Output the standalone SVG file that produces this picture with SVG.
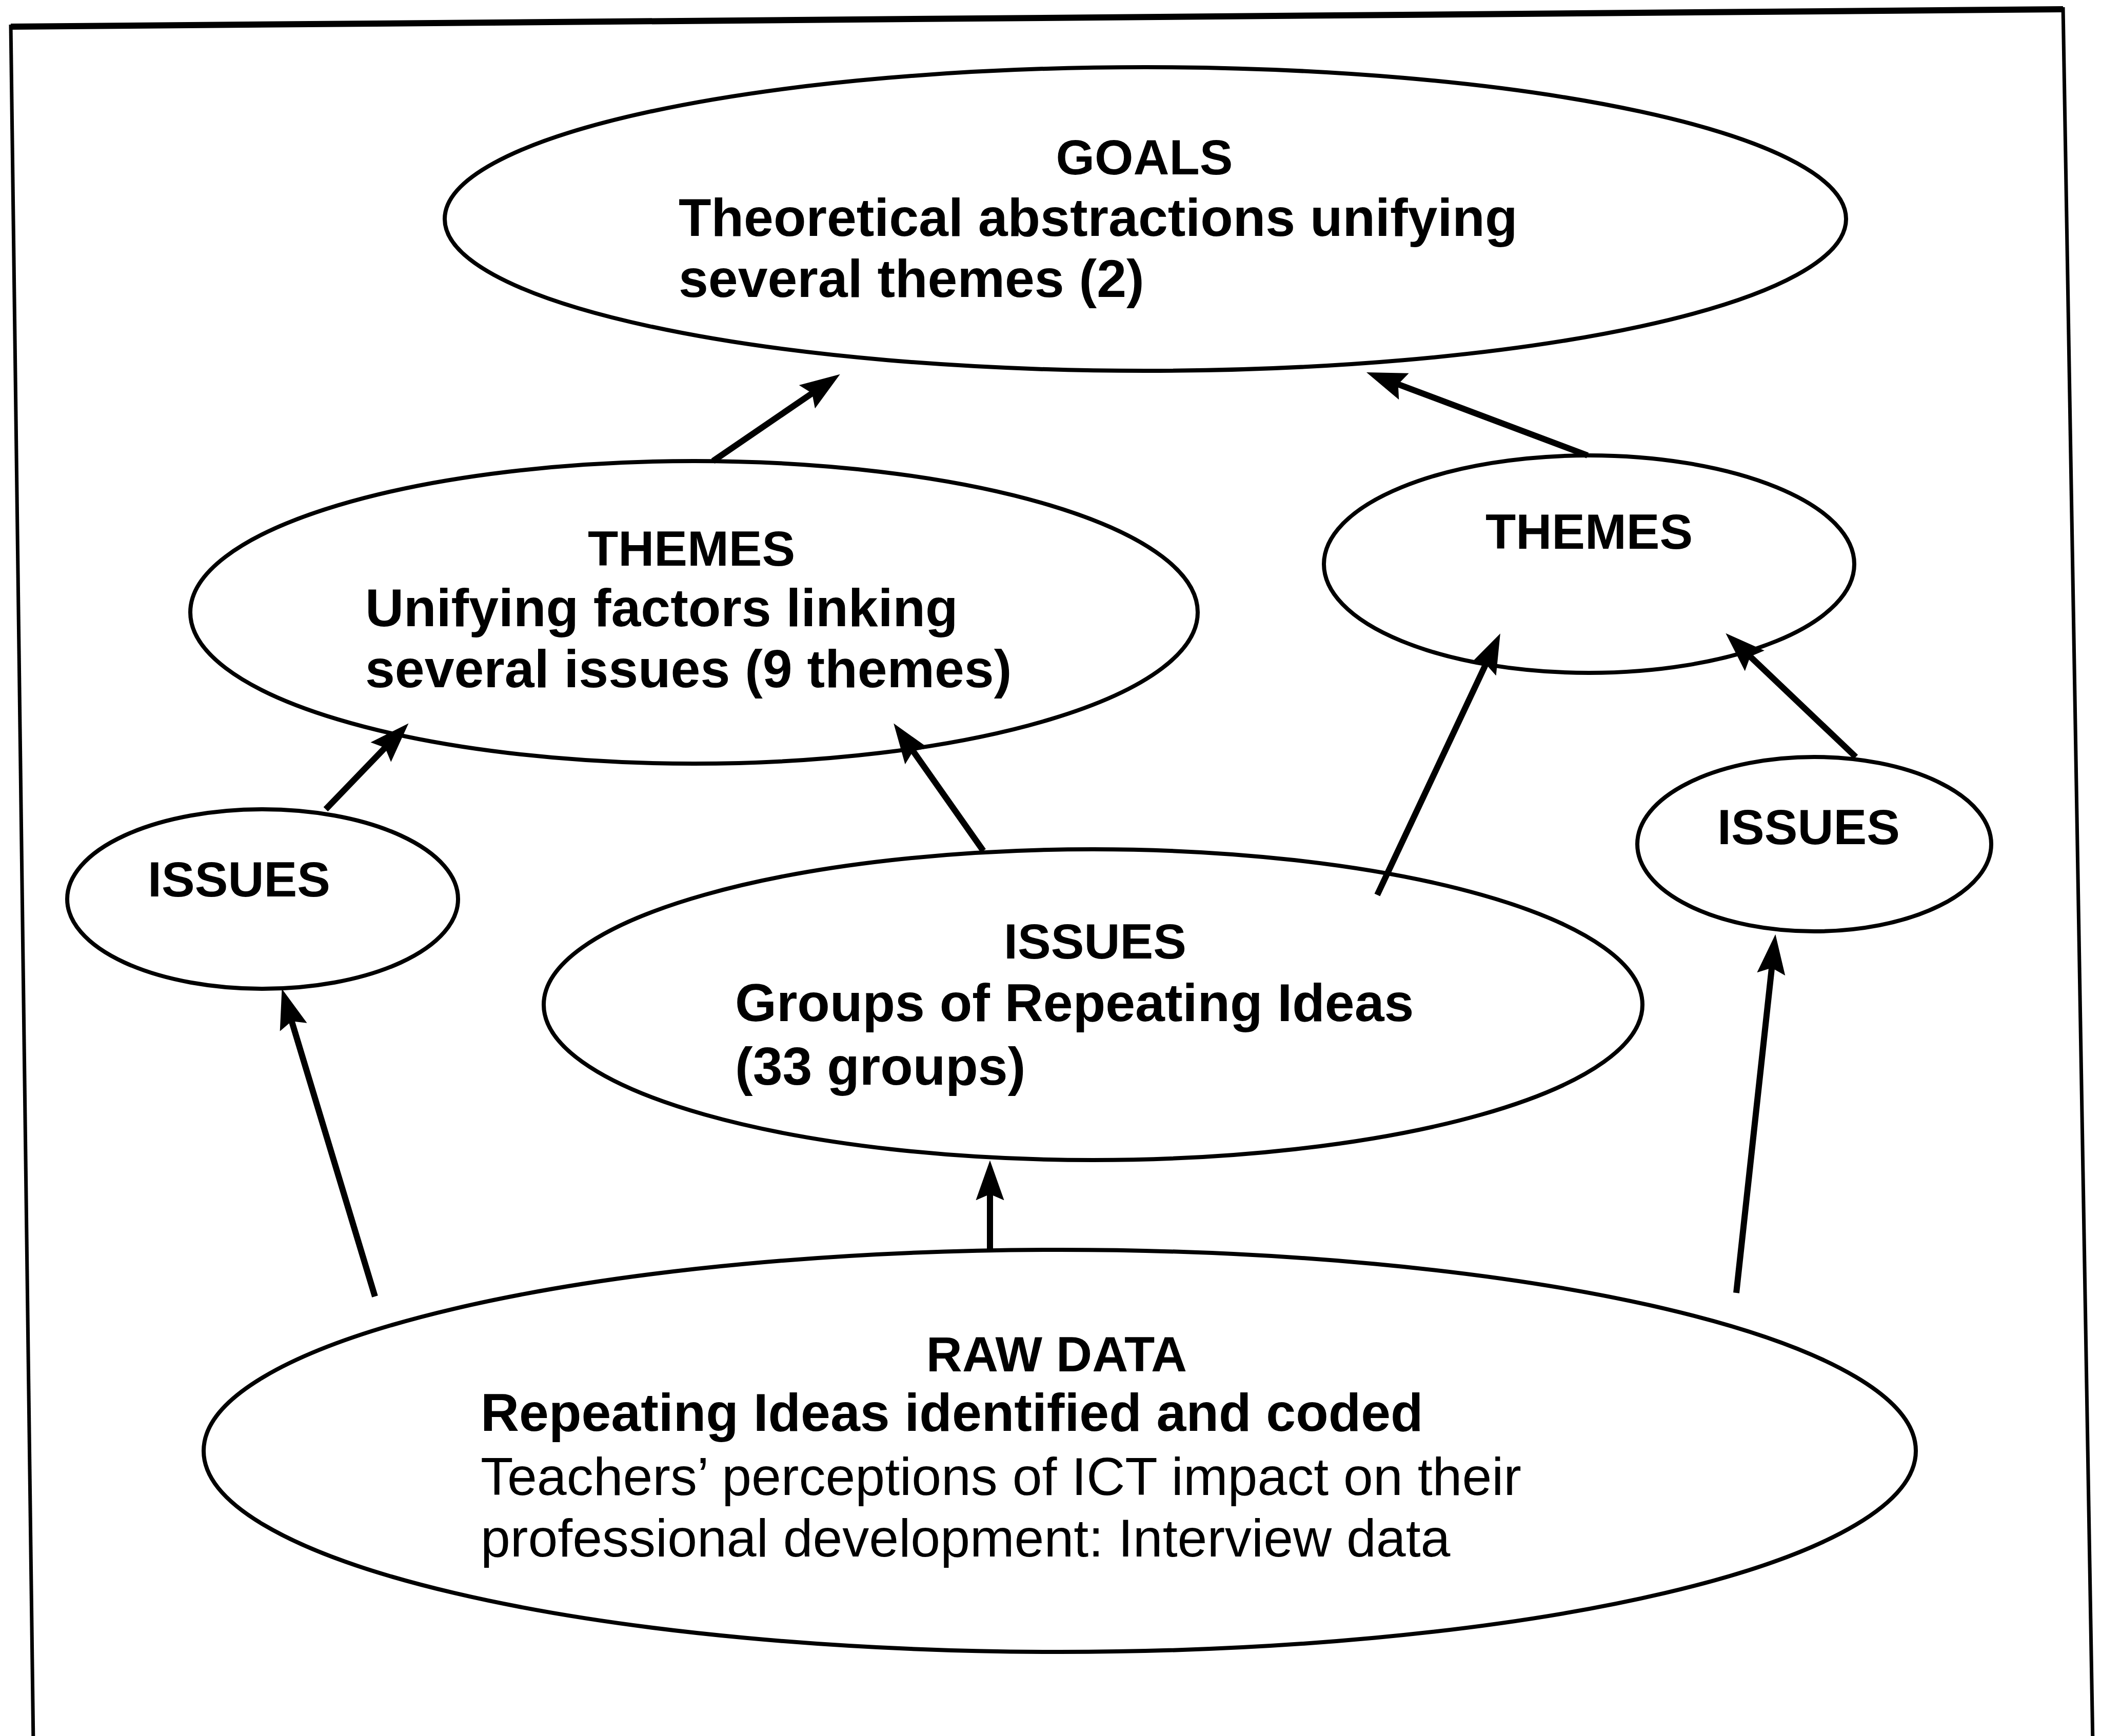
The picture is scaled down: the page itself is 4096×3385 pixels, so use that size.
<svg xmlns="http://www.w3.org/2000/svg" width="4096" height="3385" viewBox="0 0 4096 3385">
  <style>
    .node { fill: #ffffff; stroke: #000000; stroke-width: 8; }
    .head { font-family: "Liberation Sans", Arial, sans-serif; font-weight: bold; font-size: 97px; fill: #000000; text-anchor: middle; }
    .body { font-family: "Liberation Sans", Arial, sans-serif; font-weight: bold; font-size: 104px; fill: #000000; }
    .plain { font-family: "Liberation Sans", Arial, sans-serif; font-weight: normal; font-size: 104px; fill: #000000; }
    .link { stroke: #000000; stroke-width: 12; fill: none; marker-end: url(#arrow); }
  </style>
  <defs>
    <marker id="arrow" viewBox="0 0 6.5 5" refX="3.2" refY="2.5" markerWidth="6.5" markerHeight="5" markerUnits="strokeWidth" orient="auto">
      <path d="M0,0.2 L6.5,2.5 L0,4.8 L1,2.5 z" fill="#000000"/>
    </marker>
  </defs>

  <rect width="4096" height="3385" fill="#ffffff"/>

  <!-- outer frame, slightly skewed -->
  <g id="frame" fill="none" stroke="#000000">
    <line x1="21" y1="52" x2="4022" y2="18" stroke-width="12"/>
    <line x1="21" y1="48" x2="65" y2="3400" stroke-width="7"/>
    <line x1="4022" y1="14" x2="4080" y2="3400" stroke-width="7"/>
  </g>

  <g id="goals">
    <ellipse class="node" cx="2233" cy="427" rx="1366" ry="296"/>
    <text class="head" x="2231" y="340">GOALS</text>
    <text class="body" x="1323" y="460">Theoretical abstractions unifying</text>
    <text class="body" x="1323" y="579">several themes (2)</text>
  </g>

  <g id="themes-left">
    <ellipse class="node" cx="1353" cy="1194" rx="982" ry="295"/>
    <text class="head" x="1348" y="1103">THEMES</text>
    <text class="body" x="712" y="1221">Unifying factors linking</text>
    <text class="body" x="712" y="1340">several issues (9 themes)</text>
  </g>

  <g id="themes-right">
    <ellipse class="node" cx="3098" cy="1100" rx="517" ry="212"/>
    <text class="head" x="3098" y="1070">THEMES</text>
  </g>

  <g id="issues-left">
    <ellipse class="node" cx="512" cy="1753" rx="381" ry="175"/>
    <text class="head" x="466" y="1748">ISSUES</text>
  </g>

  <g id="issues-centre">
    <ellipse class="node" cx="2131" cy="1959" rx="1071" ry="303"/>
    <text class="head" x="2135" y="1869">ISSUES</text>
    <text class="body" x="1433" y="1991">Groups of Repeating Ideas</text>
    <text class="body" x="1433" y="2115">(33 groups)</text>
  </g>

  <g id="issues-right">
    <ellipse class="node" cx="3537" cy="1646" rx="345" ry="170"/>
    <text class="head" x="3526" y="1646">ISSUES</text>
  </g>

  <g id="raw-data">
    <ellipse class="node" cx="2066" cy="2829" rx="1669" ry="392"/>
    <text class="head" x="2060" y="2674">RAW DATA</text>
    <text class="body" x="937" y="2790">Repeating Ideas identified and coded</text>
    <text class="plain" x="937" y="2915">Teachers’ perceptions of ICT impact on their</text>
    <text class="plain" x="937" y="3035">professional development: Interview data</text>
  </g>

  <g id="connectors">
    <line class="link" x1="1390" y1="899" x2="1605" y2="752"/>
    <line class="link" x1="3095" y1="888" x2="2701" y2="740"/>
    <line class="link" x1="635" y1="1578" x2="769" y2="1439"/>
    <line class="link" x1="1917" y1="1659" x2="1765" y2="1443"/>
    <line class="link" x1="2685" y1="1745" x2="2908" y2="1271"/>
    <line class="link" x1="3618" y1="1476" x2="3393" y2="1262"/>
    <line class="link" x1="731" y1="2528" x2="561" y2="1966"/>
    <line class="link" x1="1930" y1="2437" x2="1930" y2="2302"/>
    <line class="link" x1="3385" y1="2521" x2="3457" y2="1861"/>
  </g>
</svg>
